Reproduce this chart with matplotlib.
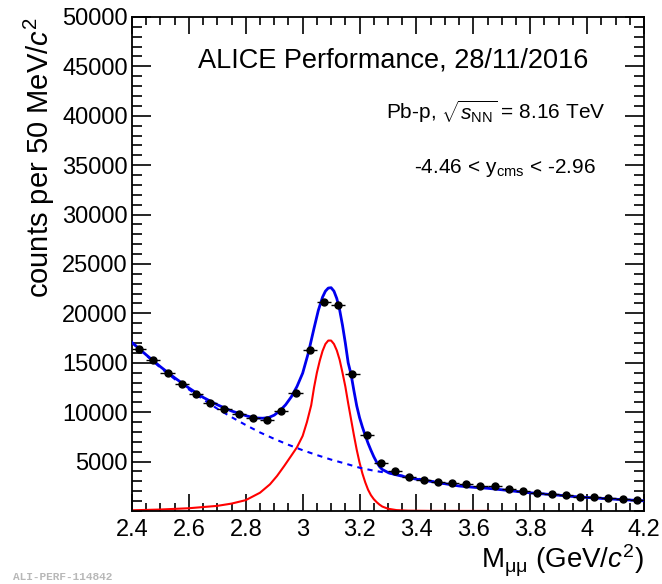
import numpy as np
import matplotlib
matplotlib.use("Agg")
import matplotlib.pyplot as plt
from matplotlib.ticker import MultipleLocator

plt.rcParams['font.family'] = ['Liberation Sans', 'DejaVu Sans']
plt.rcParams['mathtext.fontset'] = 'custom'
plt.rcParams['mathtext.rm'] = 'Liberation Sans'
plt.rcParams['mathtext.it'] = 'Liberation Sans:italic'
plt.rcParams['mathtext.bf'] = 'Liberation Sans:bold'

# data points (bin centres, 50 MeV bins)
mass = [2.425, 2.475, 2.525, 2.575, 2.625, 2.675, 2.725, 2.775, 2.825, 2.875,
        2.925, 2.975, 3.025, 3.075, 3.125, 3.175, 3.225, 3.275, 3.325, 3.375,
        3.425, 3.475, 3.525, 3.575, 3.625, 3.675, 3.725, 3.775, 3.825, 3.875,
        3.925, 3.975, 4.025, 4.075, 4.125, 4.175]
counts = [16400, 15250, 13990, 12850, 11800, 10950, 10320, 9780, 9440, 9220,
          10170, 11950, 16250, 21200, 20800, 13820, 7690, 4820, 4050, 3420,
          3140, 2910, 2870, 2690, 2480, 2500, 2180, 1990, 1800, 1710,
          1580, 1430, 1390, 1300, 1220, 1150]

# total fit (solid blue)
tot_x = [2.40, 2.45, 2.50, 2.55, 2.60, 2.65, 2.70, 2.75, 2.80, 2.82, 2.84, 2.86,
         2.88, 2.90, 2.92, 2.94, 2.96, 2.98, 3.00, 3.02, 3.04, 3.055, 3.07, 3.08,
         3.09, 3.10, 3.11, 3.12, 3.13, 3.14, 3.15, 3.16, 3.17, 3.18, 3.19, 3.20,
         3.21, 3.22, 3.23, 3.24, 3.25, 3.26, 3.27, 3.28, 3.30, 3.32, 3.35, 3.40,
         3.45, 3.50, 3.55, 3.60, 3.65, 3.70, 3.78, 3.85, 3.90, 3.95, 4.01, 4.10, 4.20]
tot_y = [17050, 15800, 14600, 13480, 12450, 11500, 10750, 10120, 9650, 9500, 9410, 9390,
         9450, 9700, 10150, 10750, 11550, 12600, 13950, 16000, 18500, 20300, 21650, 22250,
         22560, 22600, 22250, 21500, 20350, 18800, 17000, 15000, 13850, 12200, 10650, 9450,
         8500, 7650, 6850, 6150, 5500, 4950, 4500, 4200, 3900, 3720, 3520, 3220,
         3000, 2760, 2530, 2400, 2300, 2150, 1890, 1720, 1600, 1470, 1350, 1190, 1030]

# background (dashed blue)
bkg_x = [2.40, 2.45, 2.50, 2.55, 2.60, 2.65, 2.70, 2.75, 2.80, 2.85, 2.90, 2.95,
         3.00, 3.05, 3.10, 3.15, 3.20, 3.25, 3.30, 3.35, 3.40, 3.45, 3.50]
bkg_y = [17050, 15750, 14500, 13350, 12300, 11300, 10350, 9500, 8700, 7950, 7300, 6700,
         6150, 5660, 5200, 4800, 4380, 4080, 3840, 3580, 3300, 3030, 2760]

# J/psi signal (red)
sig_x = [2.40, 2.50, 2.60, 2.70, 2.75, 2.80, 2.85, 2.885, 2.91, 2.935, 2.96, 2.98,
         3.00, 3.015, 3.03, 3.04, 3.05, 3.06, 3.07, 3.08, 3.09, 3.10, 3.11, 3.12,
         3.13, 3.14, 3.15, 3.16, 3.17, 3.18, 3.19, 3.20, 3.21, 3.22, 3.23, 3.24,
         3.25, 3.26, 3.27, 3.28, 3.30, 3.33, 3.37, 3.45, 3.655]
sig_y = [70, 150, 280, 520, 750, 1100, 1850, 2700, 3550, 4550, 5600, 6450,
         7600, 9000, 10700, 12500, 14000, 15200, 16200, 16900, 17250, 17250, 16900, 16250,
         15300, 14000, 12600, 10900, 9300, 7700, 6200, 4900, 3800, 2900, 2150, 1600,
         1200, 900, 650, 450, 230, 90, 35, 12, 8]

fig = plt.figure(figsize=(6.62, 5.84), dpi=100)
ax = fig.add_axes([0.1994, 0.125, 0.7734, 0.846])

ax.plot(sig_x, sig_y, color='#ff0000', lw=1.5, zorder=2)
ax.plot(bkg_x, bkg_y, color='#0000ff', lw=1.5, ls=(0, (2.5, 2.5)), zorder=3)
ax.plot(tot_x, tot_y, color='#0000ee', lw=2.0, zorder=4)

err_y = np.sqrt(np.array(counts))
ax.errorbar(mass, counts, xerr=0.025, yerr=err_y, fmt='o', color='black',
            ms=5, elinewidth=1, capsize=0, zorder=5)

xticks = [2.4, 2.6, 2.8, 3.0, 3.2, 3.4, 3.6, 3.8, 4.0, 4.2]
xlabels = ['2.4', '2.6', '2.8', '3', '3.2', '3.4', '3.6', '3.8', '4', '4.2']
yticks = list(range(5000, 50001, 5000))

ax.set_xlim(2.4, 4.2)
ax.set_ylim(0, 50000)
ax.set_xticks(xticks)
ax.set_xticklabels(xlabels)
ax.xaxis.set_minor_locator(MultipleLocator(0.05))
ax.set_yticks(yticks)
ax.set_yticklabels([str(v) for v in yticks])
ax.yaxis.set_minor_locator(MultipleLocator(1000))

ax.tick_params(which='both', direction='in', top=True, right=True, labelsize=17, width=1.2)
ax.tick_params(axis='y', which='major', length=14, pad=3)
ax.tick_params(axis='y', which='minor', length=7)
ax.tick_params(axis='x', which='major', length=12, pad=6)
ax.tick_params(axis='x', which='minor', length=6)
for s in ax.spines.values():
    s.set_linewidth(1.3)

ax.set_ylabel(r'counts per 50 MeV/$\mathit{c}^{2}$', fontsize=21, loc='top', labelpad=4)
ax.set_xlabel(r'M$_{\rm μμ}$ (GeV/$\mathit{c}^{2}$)', fontsize=20, loc='right', labelpad=1)

ax.text(0.51, 0.912, 'ALICE Performance, 28/11/2016', transform=ax.transAxes,
        ha='center', va='center', fontsize=19.5)
ax.text(0.924, 0.808, r'Pb-p, $\sqrt{s_{\rm NN}}$ = 8.16 TeV', transform=ax.transAxes,
        ha='right', va='center', fontsize=15)
ax.text(0.906, 0.695, r'-4.46 < y$_{\rm cms}$ < -2.96', transform=ax.transAxes,
        ha='right', va='center', fontsize=15)

fig.text(0.02, 0.004, 'ALI-PERF-114842', fontsize=8, color='#b8b8b8',
         family='Liberation Mono', weight='bold', ha='left', va='bottom')

fig.savefig('out.png', dpi=100)
